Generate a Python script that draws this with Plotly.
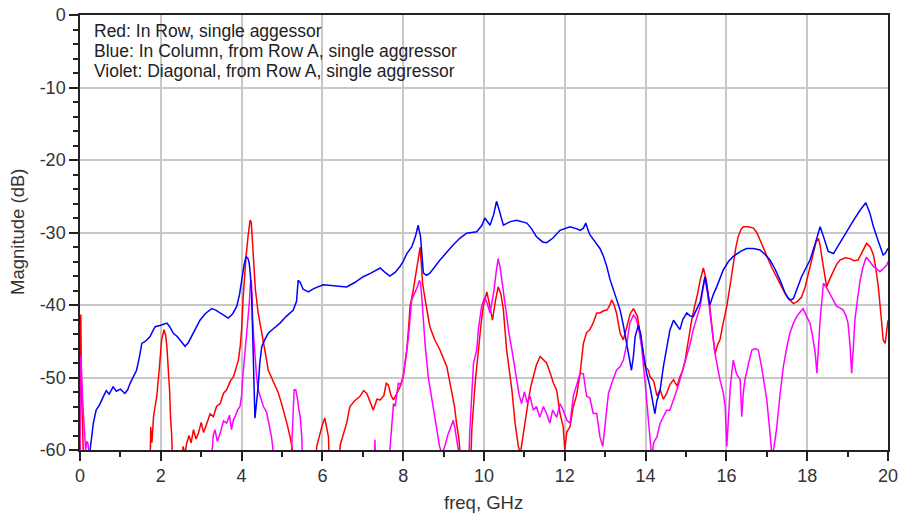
import plotly.graph_objects as go

# ---- data (freq in GHz, magnitude in dB) ----
blue_f = [0.0, 0.22, 0.25, 0.30, 0.33, 0.40, 0.48, 0.58, 0.65, 0.72, 0.82, 0.90, 1.0, 1.11, 1.18, 1.24, 1.32, 1.40, 1.47, 1.53,
          1.62, 1.73, 1.80, 1.86, 2.0, 2.15, 2.22, 2.31, 2.40, 2.50, 2.60, 2.68, 2.76, 2.86, 2.97, 3.10, 3.26, 3.36, 3.47, 3.57,
          3.67, 3.78, 3.88, 3.95, 4.00, 4.06, 4.11, 4.16, 4.19, 4.22, 4.25, 4.27, 4.29, 4.31, 4.33, 4.36, 4.41, 4.45, 4.50, 4.58,
          4.66, 4.80, 4.95, 5.10, 5.28, 5.36, 5.40, 5.45, 5.52, 5.65, 5.80, 6.02, 6.30, 6.60, 6.80, 7.01, 7.20, 7.43, 7.55, 7.67,
          7.80, 7.92, 8.00, 8.09, 8.21, 8.30, 8.37, 8.43, 8.47, 8.50, 8.58, 8.66, 8.91, 9.08, 9.24, 9.40, 9.57, 9.82, 9.95, 10.02,
          10.08, 10.15, 10.24, 10.31, 10.38, 10.48, 10.65, 10.81, 11.06, 11.18, 11.30, 11.45, 11.55, 11.70, 11.88, 12.13, 12.30, 12.38, 12.46, 12.52,
          12.57, 12.62, 12.75, 12.87, 12.96, 13.04, 13.12, 13.20, 13.28, 13.37, 13.45, 13.53, 13.60, 13.65, 13.70, 13.74, 13.82, 13.88, 13.94, 14.03,
          14.11, 14.19, 14.23, 14.28, 14.36, 14.44, 14.52, 14.60, 14.69, 14.78, 14.85, 14.92, 15.02, 15.10, 15.18, 15.27, 15.35, 15.42, 15.47, 15.53,
          15.59, 15.68, 15.76, 15.92, 16.05, 16.17, 16.35, 16.50, 16.67, 16.83, 16.95, 17.08, 17.20, 17.33, 17.45, 17.53, 17.60, 17.66, 17.76, 17.86,
          17.96, 18.07, 18.20, 18.32, 18.40, 18.52, 18.65, 18.80, 18.98, 19.15, 19.30, 19.45, 19.55, 19.64, 19.76, 19.88, 19.94, 20.0]
blue_db = [-65, -62, -60, -57.5, -56.3, -54.5, -53.8, -52.6, -51.8, -52.3, -51.3, -51.9, -51.6, -52.2, -51.7, -50.8, -50.0, -49.0, -47.2, -45.3,
           -45.0, -44.4, -43.6, -43.0, -42.8, -42.5, -43.0, -43.9, -44.3, -45.0, -45.7, -45.2, -44.4, -43.2, -42.1, -41.2, -40.5, -40.7, -41.1, -41.5,
           -41.8, -41.2, -40.2, -38.5, -36.6, -34.5, -33.3, -33.6, -34.3, -36.0, -38.9, -43.0, -48.0, -52.5, -55.6, -54.0, -51.3, -48.0, -45.7, -44.7,
           -43.9, -43.2, -42.5, -41.6, -40.7, -39.5, -36.6, -36.9, -37.8, -38.2, -37.7, -37.2, -37.3, -37.5, -36.9, -36.1, -35.6, -34.9, -35.5, -36.0,
           -35.5, -34.7, -34.0, -32.9, -32.0, -30.6, -29.0, -30.6, -33.5, -35.6, -35.9, -35.6, -33.8, -32.7, -31.7, -30.8, -30.1, -29.9, -29.0, -28.0,
           -28.4, -29.0, -27.5, -25.7, -27.0, -29.0, -28.5, -28.3, -28.7, -29.5, -30.6, -31.3, -31.4, -30.8, -29.7, -29.2, -29.5, -29.7, -29.4, -28.7,
           -29.6, -30.3, -31.3, -32.2, -33.3, -34.7, -36.5, -37.9, -39.3, -40.7, -42.8, -45.3, -47.5, -49.0, -47.0, -44.4, -42.8, -44.0, -46.5, -49.5,
           -51.3, -54.0, -55.0, -53.2, -51.7, -48.5, -45.7, -43.5, -42.1, -42.8, -43.4, -42.0, -41.1, -41.5, -41.6, -40.5, -39.6, -37.5, -36.1, -38.0,
           -40.0, -38.5, -37.5, -35.2, -34.0, -33.3, -32.6, -32.2, -32.2, -32.4, -33.0, -33.8, -35.0, -36.6, -38.3, -39.1, -39.3, -39.1, -37.6, -36.1,
           -35.0, -33.8, -31.5, -29.2, -30.5, -32.6, -32.9, -31.5, -29.7, -28.3, -27.0, -25.9, -27.3, -29.2, -31.2, -33.1, -32.8, -32.2]

red_f = [0.0, 0.0, 0.02, 0.04, 0.07, 0.10,
         1.73, 1.75, 1.78, 1.82, 1.86, 1.90, 1.96, 2.02, 2.08, 2.12, 2.15, 2.19, 2.22, 2.24, 2.27, 2.31,
         2.50, 2.55, 2.60, 2.64, 2.70, 2.75, 2.81, 2.87, 2.93, 3.00, 3.06, 3.14, 3.22, 3.30, 3.38, 3.47, 3.55, 3.63,
         3.72, 3.80, 3.87, 3.92, 3.97, 4.00, 4.04, 4.08, 4.11, 4.16, 4.21, 4.24, 4.27, 4.29, 4.34, 4.41, 4.48, 4.54, 4.60, 4.66,
         4.75, 4.83, 4.90, 4.99, 5.06, 5.12, 5.20, 5.26, 5.30,
         5.80, 5.86, 5.95, 6.00, 6.06, 6.10, 6.15, 6.19, 6.40, 6.44, 6.52, 6.60, 6.68, 6.80, 6.93, 7.02, 7.10, 7.18, 7.26, 7.35,
         7.43, 7.52, 7.58, 7.63, 7.70, 7.76, 7.85, 7.92, 8.00, 8.04, 8.09, 8.13, 8.17, 8.25, 8.32, 8.38, 8.42, 8.45, 8.48, 8.55,
         8.66, 8.78, 8.91, 9.08, 9.20, 9.27, 9.32, 9.38, 9.41, 9.45,
         9.65, 9.70, 9.78, 9.86, 9.92, 9.98, 10.07, 10.12, 10.21, 10.28, 10.35, 10.42, 10.48, 10.56, 10.62, 10.69, 10.77, 10.85, 10.90, 10.97,
         11.03, 11.10, 11.16, 11.22, 11.30, 11.39, 11.47, 11.55, 11.64, 11.72, 11.80, 11.88, 11.96, 12.00, 12.05, 12.13, 12.21, 12.29, 12.38, 12.46,
         12.54, 12.62, 12.70, 12.79, 12.87, 12.96, 13.04, 13.10, 13.16, 13.22, 13.28, 13.37, 13.45, 13.53, 13.62, 13.70, 13.80, 13.86, 13.94, 13.99,
         14.07, 14.11, 14.20, 14.28, 14.36, 14.44, 14.52, 14.60, 14.69, 14.78, 14.85, 14.92, 14.98, 15.06, 15.14, 15.22, 15.27, 15.35, 15.43, 15.50,
         15.59, 15.66, 15.72, 15.78, 15.84, 15.92, 16.01, 16.10, 16.17, 16.23, 16.29, 16.36, 16.42, 16.55, 16.67, 16.75, 16.83, 16.92, 17.00, 17.12,
         17.24, 17.35, 17.45, 17.55, 17.66, 17.76, 17.86, 17.95, 18.03, 18.10, 18.15, 18.22, 18.28, 18.32, 18.36, 18.42, 18.48, 18.56, 18.65, 18.73,
         18.81, 18.94, 19.06, 19.16, 19.26, 19.36, 19.47, 19.56, 19.64, 19.70, 19.76, 19.82, 19.88, 19.93, 19.97, 20.0]
red_db = [-65, -41.4, -41.4, -52.6, -58, -65,
          -65, -56.8, -59, -55.4, -54, -52.6, -49.0, -44.8, -43.4, -44.2, -45.7, -49.0, -52.0, -55.4, -58, -65,
          -65, -59.5, -60.5, -59.1, -58.0, -59.0, -57.2, -58.5, -57.7, -56.2, -57.6, -56.3, -55.0, -55.4, -54.0, -53.6, -52.2, -51.7,
          -50.5, -49.9, -48.6, -47.6, -45.5, -43.4, -38.9, -35.5, -33.3, -30.5, -28.3, -28.6, -31.5, -34.3, -37.8, -41.1, -43.5, -45.3, -47.0, -49.0,
          -50.2, -51.3, -52.0, -53.6, -55.0, -56.3, -58.2, -60, -65,
          -65, -59.5, -57.5, -56.5, -55.6, -57.0, -58.2, -65, -65, -59.3, -57.8, -56.3, -54.0, -53.2, -52.6, -51.8, -52.2, -53.5, -54.5, -53.0,
          -53.1, -52.5, -50.8, -51.0, -52.5, -53.1, -52.0, -51.3, -49.9, -48.0, -46.2, -43.4, -40.2, -37.9, -35.5, -33.0, -32.0, -34.5, -37.0, -39.5,
          -43.0, -44.8, -46.2, -48.5, -51.7, -54.0, -56.3, -58.5, -60.5, -65,
          -65, -57.0, -50.8, -45.7, -43.0, -40.2, -38.2, -39.5, -42.1, -39.5, -37.5, -38.5, -40.7, -46.2, -49.0, -51.7, -56.3, -59.5, -60.5, -57.7,
          -55.5, -53.1, -51.2, -49.9, -48.2, -47.1, -47.5, -48.0, -49.4, -50.8, -51.8, -54.9, -56.8, -60, -57.5, -56.8, -54.0, -52.5, -49.4, -45.3,
          -43.8, -43.4, -42.5, -41.1, -41.1, -40.8, -40.7, -40.2, -39.3, -40.0, -41.1, -43.9, -44.8, -43.0, -41.2, -40.5, -41.6, -43.9, -47.0, -48.5,
          -49.0, -49.9, -50.5, -52.5, -51.7, -53.0, -52.2, -51.0, -50.3, -51.2, -49.9, -49.0, -47.6, -44.8, -42.1, -40.0, -38.9, -36.6, -34.9, -36.5,
          -40.2, -44.0, -46.7, -45.5, -44.8, -42.5, -40.2, -37.0, -34.3, -32.2, -30.6, -29.6, -29.2, -29.2, -29.4, -30.0, -31.0, -32.2, -33.3, -34.8,
          -36.1, -37.4, -38.4, -39.2, -39.8, -39.5, -38.9, -37.5, -35.6, -34.0, -32.9, -31.3, -30.8, -31.8, -33.3, -35.5, -37.5, -36.4, -35.2, -34.4,
          -33.8, -33.5, -33.6, -33.9, -33.8, -32.6, -31.5, -32.0, -33.1, -35.0, -37.5, -41.0, -44.8, -45.3, -43.5, -42.1]

violet_f = [0.0, 0.0, 0.02, 0.04, 0.07, 0.10, 0.12, 0.14, 0.17, 0.20, 0.22, 0.25,
            3.20, 3.26, 3.30, 3.34, 3.40, 3.47, 3.55, 3.63, 3.70, 3.75, 3.80, 3.84, 3.90, 3.96, 4.00, 4.03, 4.07, 4.11,
            4.15, 4.19, 4.22, 4.24, 4.26, 4.27, 4.30, 4.33, 4.37, 4.41, 4.48, 4.54, 4.62, 4.68, 4.74, 4.79, 4.82,
            5.20, 5.24, 5.28, 5.30, 5.34, 5.38, 5.42, 5.45, 5.49, 5.53,
            7.27, 7.30, 7.33,
            7.62, 7.67, 7.72, 7.76, 7.80, 7.85, 7.88, 7.94, 8.00, 8.06, 8.13, 8.21, 8.29, 8.35, 8.40, 8.43, 8.46, 8.50, 8.54, 8.62,
            8.70, 8.79, 8.85, 8.90, 8.96, 9.03, 9.10, 9.16, 9.24, 9.28, 9.32, 9.38, 9.42,
            9.60, 9.65, 9.70, 9.74, 9.82, 9.86, 9.94, 10.02, 10.08, 10.15, 10.20, 10.25, 10.30, 10.35, 10.40, 10.44, 10.50, 10.56, 10.62, 10.69,
            10.75, 10.81, 10.87, 10.93, 11.00, 11.07, 11.14, 11.22, 11.30, 11.38, 11.47, 11.55, 11.63, 11.70, 11.80, 11.88, 11.96, 12.05, 12.13, 12.21,
            12.30, 12.38, 12.46, 12.54, 12.62, 12.70, 12.79, 12.87, 12.94, 13.00, 13.08, 13.18, 13.28, 13.37, 13.45, 13.53, 13.61, 13.70, 13.76, 13.82,
            13.90, 13.99, 14.07, 14.12, 14.15, 14.20, 14.28, 14.36, 14.44, 14.52, 14.60, 14.69, 14.77, 14.85, 14.93, 15.02, 15.10, 15.18, 15.27, 15.35,
            15.42, 15.47, 15.53, 15.59, 15.66, 15.72, 15.78, 15.84, 15.92, 15.97, 16.01, 16.05, 16.10, 16.17, 16.25, 16.34, 16.38, 16.42, 16.46, 16.55,
            16.63, 16.72, 16.79, 16.87, 16.94, 17.00, 17.08, 17.13, 17.18, 17.24, 17.33, 17.41, 17.49, 17.57, 17.66, 17.74, 17.82, 17.90, 17.98, 18.07,
            18.14, 18.20, 18.24, 18.28, 18.32, 18.37, 18.40, 18.48, 18.56, 18.65, 18.73, 18.81, 18.89, 18.96, 19.01, 19.06, 19.10, 19.14, 19.18, 19.25,
            19.31, 19.38, 19.46, 19.55, 19.64, 19.72, 19.80, 19.88, 19.97, 20.0]
violet_db = [-65, -47.1, -47.1, -50.5, -53.6, -56.5, -58.2, -60, -58.8, -59.2, -60.5, -65,
             -65, -60, -58.0, -57.2, -58.8, -57.7, -56.0, -56.3, -55.2, -57.2, -55.8, -55.4, -54.5, -54.0, -52.5, -49.9, -47.5, -44.8,
             -42.5, -39.8, -37.0, -36.6, -39.0, -41.6, -44.5, -47.1, -49.8, -51.7, -53.0, -54.0, -54.8, -56.5, -58.2, -60.5, -65,
             -65, -59.5, -54.5, -51.7, -51.7, -52.8, -54.5, -55.4, -58.2, -65,
             -65, -58.6, -65,
             -65, -60, -56.0, -53.6, -54.0, -51.5, -50.8, -51.0, -49.9, -47.5, -44.4, -39.3, -38.4, -37.5, -36.6, -37.0, -38.9, -42.0, -45.3, -49.9,
             -52.6, -55.4, -58.0, -59.5, -60.5, -59.5, -58.0, -57.0, -55.9, -57.0, -58.2, -60.5, -65,
             -65, -57.2, -52.5, -48.0, -46.2, -43.4, -40.2, -38.9, -39.8, -41.1, -39.5, -37.9, -35.5, -33.6, -34.8, -36.6, -39.0, -41.6, -44.0, -46.2,
             -48.5, -50.8, -52.4, -53.6, -52.0, -53.5, -52.6, -54.5, -54.0, -55.5, -54.0, -55.0, -56.3, -54.5, -55.5, -53.6, -54.5, -55.9, -56.3, -52.6,
             -51.0, -49.4, -49.5, -52.6, -52.8, -54.9, -55.0, -58.2, -59.5, -56.0, -52.2, -50.5, -49.0, -48.5, -47.6, -45.5, -42.5, -41.4, -41.8, -43.0,
             -45.7, -50.8, -55.9, -58.5, -61, -59.0, -58.2, -56.3, -55.5, -54.5, -54.5, -53.1, -51.8, -50.3, -48.8, -47.1, -45.4, -43.4, -41.8, -40.2,
             -37.8, -36.1, -38.2, -41.1, -44.0, -46.7, -48.5, -50.3, -52.0, -54.0, -59.5, -54.9, -51.0, -47.6, -49.5, -50.3, -55.4, -52.0, -50.3, -48.0,
             -46.2, -46.0, -46.2, -48.5, -50.8, -53.1, -57.7, -61, -59.5, -57.2, -52.2, -48.5, -46.0, -43.9, -42.5, -41.6, -41.0, -40.5, -41.5, -42.5,
             -44.5, -46.7, -49.4, -45.5, -42.1, -39.0, -37.0, -37.6, -38.4, -39.4, -40.2, -40.4, -40.7, -41.5, -42.5, -45.5, -49.4, -46.0, -42.1, -39.0,
             -36.6, -34.8, -33.4, -34.0, -34.7, -35.0, -35.4, -35.0, -34.5, -34.0]

legend_lines = ["Red: In Row, single aggessor",
                "Blue: In Column, from Row A, single aggressor",
                "Violet: Diagonal, from Row A, single aggressor"]
x_ticks = [0, 2, 4, 6, 8, 10, 12, 14, 16, 18, 20]
y_ticks = [0, -10, -20, -30, -40, -50, -60]

FONT = "Liberation Sans, Arial, sans-serif"

fig = go.Figure()
fig.add_trace(go.Scatter(x=red_f, y=red_db, mode="lines", line=dict(color="#ff0000", width=1.5), name="Red"))
fig.add_trace(go.Scatter(x=violet_f, y=violet_db, mode="lines", line=dict(color="#ff00ff", width=1.5), name="Violet"))
fig.add_trace(go.Scatter(x=blue_f, y=blue_db, mode="lines", line=dict(color="#0000ff", width=1.5), name="Blue"))

axis_common = dict(
    showline=True, mirror=True, linecolor="#222222", linewidth=1.5,
    showgrid=True, gridcolor="#c8c8c8", gridwidth=1.5,
    ticks="outside", ticklen=9, tickwidth=1.5, tickcolor="#222222",
    tickfont=dict(family=FONT, size=18, color="#333333"),
    zeroline=False, automargin=False,
)
fig.update_xaxes(range=[0, 20], tickvals=x_ticks, ticktext=[str(v) for v in x_ticks],
                 minor=dict(dtick=1, tick0=0, ticks="outside", ticklen=5, tickwidth=1.5, tickcolor="#222222", showgrid=False),
                 **axis_common)
fig.update_yaxes(range=[-60, 0], tickvals=y_ticks, ticktext=[str(v) for v in y_ticks],
                 minor=dict(dtick=2, tick0=0, ticks="outside", ticklen=5, tickwidth=1.5, tickcolor="#222222", showgrid=False),
                 **axis_common)

annos = []
for txt, py in zip(legend_lines, [31, 51, 71]):
    annos.append(dict(text=txt, xref="paper", yref="paper", x=(92 - 80) / 808, y=(450 - py) / 435,
                      xanchor="left", yanchor="middle", showarrow=False,
                      font=dict(family=FONT, size=17.5, color="#222222")))
annos.append(dict(text="Magnitude (dB)", xref="paper", yref="paper", x=(17 - 80) / 808, y=(450 - 232) / 435,
                  xanchor="center", yanchor="middle", textangle=-90, showarrow=False,
                  font=dict(family=FONT, size=18.5, color="#333333")))
annos.append(dict(text="freq, GHz", xref="paper", yref="paper", x=(483 - 80) / 808, y=(450 - 502) / 435,
                  xanchor="center", yanchor="middle", showarrow=False,
                  font=dict(family=FONT, size=18.5, color="#333333")))

fig.update_layout(
    width=900, height=516,
    margin=dict(l=80, r=12, t=15, b=66),
    plot_bgcolor="white", paper_bgcolor="white",
    showlegend=False,
    annotations=annos,
)

fig.write_html("out.html")
